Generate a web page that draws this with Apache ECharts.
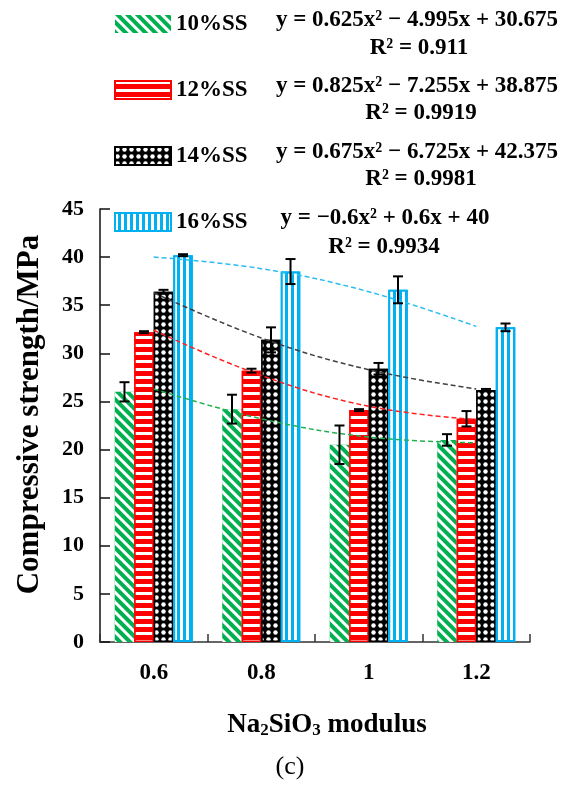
<!DOCTYPE html>
<html>
<head>
<meta charset="utf-8">
<script src="https://cdn.jsdelivr.net/npm/echarts@6/dist/echarts.min.js"></script>
<style>
html,body{margin:0;padding:0;background:#fff;}
#chart{width:569px;height:789px;}
</style>
</head>
<body>
<div id="chart"></div>
<script>
// ---- data ----
const categories = ['0.6', '0.8', '1', '1.2'];
const seriesNames = ['10%SS', '12%SS', '14%SS', '16%SS'];
const ss10 = [26.0, 24.2, 20.5, 21.0];
const ss12 = [32.2, 28.2, 24.1, 23.2];
const ss14 = [36.4, 31.4, 28.4, 26.2];
const ss16 = [40.2, 38.5, 36.6, 32.7];
const err10 = [1.0, 1.5, 2.0, 0.6];
const err12 = [0.1, 0.2, 0.1, 0.8];
const err14 = [0.2, 1.3, 0.6, 0.1];
const err16 = [0.1, 1.3, 1.4, 0.4];
const fit10 = [26.3, 23.2, 21.3, 20.7];
const fit12 = [32.4, 27.7, 24.5, 23.1];
const fit14 = [36.3, 31.6, 28.3, 26.3];
const fit16 = [40.0, 38.8, 36.4, 32.8];
const eqTexts = [
  'y = 0.625x² − 4.995x + 30.675',
  'y = 0.825x² − 7.255x + 38.875',
  'y = 0.675x² − 6.725x + 42.375',
  'y = −0.6x² + 0.6x + 40'
];
const r2Texts = ['R² = 0.911', 'R² = 0.9919', 'R² = 0.9981', 'R² = 0.9934'];
const yTicks = {min: 0, max: 45, interval: 5};

// ---- styles ----
const FONT = '"Liberation Serif", "Times New Roman", serif';
const colors = ['#00B050', '#FF0000', '#000000', '#00B0F0'];
const fitColors = ['#22B04F', '#FF2020', '#404040', '#2BBBF0'];
const decals = [
  {symbol: 'rect', color: '#ffffff', dashArrayX: [1, 0], dashArrayY: [2.5, 4], rotation: Math.PI / 4},
  {symbol: 'rect', color: '#ffffff', dashArrayX: [1, 0], dashArrayY: [2.5, 4.5], rotation: 0},
  {symbol: 'circle', color: '#ffffff', symbolSize: 0.9, dashArrayX: [5, 2], dashArrayY: [5, 2], rotation: 0},
  {symbol: 'rect', color: '#ffffff', dashArrayX: [3, 2.5], dashArrayY: [1, 0], rotation: 0}
];
const borderW = [0, 1.5, 1.5, 2];
const CAT_GAP = 0.274;

const values = [ss10, ss12, ss14, ss16];
const errors = [err10, err12, err14, err16];
const fits = [fit10, fit12, fit14, fit16];

const series = [];
seriesNames.forEach((name, i) => {
  series.push({
    name: name,
    type: 'bar',
    data: values[i],
    barGap: '0%',
    barCategoryGap: (CAT_GAP * 100) + '%',
    itemStyle: {
      color: colors[i],
      borderColor: colors[i],
      borderWidth: borderW[i],
      decal: decals[i]
    },
    z: 2
  });
});
seriesNames.forEach((name, i) => {
  series.push({
    name: name + ' trend',
    type: 'line',
    data: fits[i],
    smooth: 0.4,
    symbol: 'none',
    lineStyle: {color: fitColors[i], width: 1.5, type: [5, 3]},
    z: 6,
    silent: true
  });
});
seriesNames.forEach((name, i) => {
  series.push({
    name: name + ' error',
    type: 'custom',
    z: 8,
    silent: true,
    data: categories.map((c, k) => [k, values[i][k], errors[i][k]]),
    encode: {x: 0, y: 1},
    renderItem: function (params, api) {
      const k = api.value(0), v = api.value(1), e = api.value(2);
      const band = api.size([1, 0])[0];
      const bw = band * (1 - CAT_GAP) / 4;
      const c = api.coord([k, v]);
      const cx = c[0] + (i - 1.5) * bw;
      const yt = api.coord([k, v + e])[1];
      const yb = api.coord([k, v - e])[1];
      const hw = 5;
      const st = {stroke: '#000', lineWidth: 2};
      return {
        type: 'group',
        children: [
          {type: 'line', shape: {x1: cx, y1: yt, x2: cx, y2: yb}, style: st},
          {type: 'line', shape: {x1: cx - hw, y1: yt, x2: cx + hw, y2: yt}, style: st},
          {type: 'line', shape: {x1: cx - hw, y1: yb, x2: cx + hw, y2: yb}, style: st}
        ]
      };
    }
  });
});

const graphics = [];
const eqX = [417, 417, 417, 385];
const eqY = [20, 86, 152, 218];
const r2X = [419, 421, 421, 384];
const r2Y = [48, 113, 179, 247];
eqTexts.forEach((t, i) => {
  graphics.push({type: 'text', x: eqX[i], y: eqY[i], z: 20,
    style: {text: t, font: 'bold 23px ' + FONT, fill: '#000', align: 'center', verticalAlign: 'middle'}});
  graphics.push({type: 'text', x: r2X[i], y: r2Y[i], z: 20,
    style: {text: r2Texts[i], font: 'bold 23px ' + FONT, fill: '#000', align: 'center', verticalAlign: 'middle'}});
});
graphics.push({type: 'text', x: 290, y: 767, z: 20,
  style: {text: '(c)', font: '26px ' + FONT, fill: '#000', align: 'center', verticalAlign: 'middle'}});

const chart = echarts.init(document.getElementById('chart'), null, {renderer: 'canvas'});
chart.setOption({
  animation: false,
  backgroundColor: '#ffffff',
  grid: {left: 100, right: 39, top: 209, bottom: 147, containLabel: false},
  legend: {
    data: seriesNames,
    orient: 'vertical',
    left: 114,
    top: 12,
    padding: 0,
    itemWidth: 56,
    itemHeight: 18,
    itemGap: 42,
    icon: 'rect',
    textStyle: {fontFamily: FONT, fontWeight: 'bold', fontSize: 23, color: '#000', lineHeight: 24},
    selectedMode: false
  },
  xAxis: {
    type: 'category',
    data: categories,
    axisLine: {lineStyle: {color: '#333', width: 1.5}},
    axisTick: {show: true, inside: true, length: 8, lineStyle: {color: '#333', width: 1.5}},
    axisLabel: {fontFamily: FONT, fontWeight: 'bold', fontSize: 23, color: '#000', margin: 20},
    name: 'Na{sub|2}SiO{sub|3} modulus',
    nameLocation: 'middle',
    nameGap: 70,
    nameTextStyle: {
      fontFamily: FONT, fontWeight: 'bold', fontSize: 27, color: '#000',
      padding: [0, 0, 0, 24],
      rich: {sub: {fontFamily: FONT, fontWeight: 'bold', fontSize: 17, color: '#000', verticalAlign: 'bottom', padding: [10, 0, 0, 0]}}
    }
  },
  yAxis: {
    type: 'value',
    min: yTicks.min, max: yTicks.max, interval: yTicks.interval,
    splitLine: {show: false},
    axisLine: {show: true, lineStyle: {color: '#111', width: 1.5}},
    axisTick: {show: true, inside: true, length: 10, lineStyle: {color: '#111', width: 1.5}},
    axisLabel: {fontFamily: FONT, fontWeight: 'bold', fontSize: 22, color: '#000', margin: 16},
    name: 'Compressive strength/MPa',
    nameLocation: 'middle',
    nameGap: 55,
    nameTextStyle: {fontFamily: FONT, fontWeight: 'bold', fontSize: 31, color: '#000', padding: [0, 0, 0, 22]}
  },
  graphic: graphics,
  series: series
});
</script>
</body>
</html>
